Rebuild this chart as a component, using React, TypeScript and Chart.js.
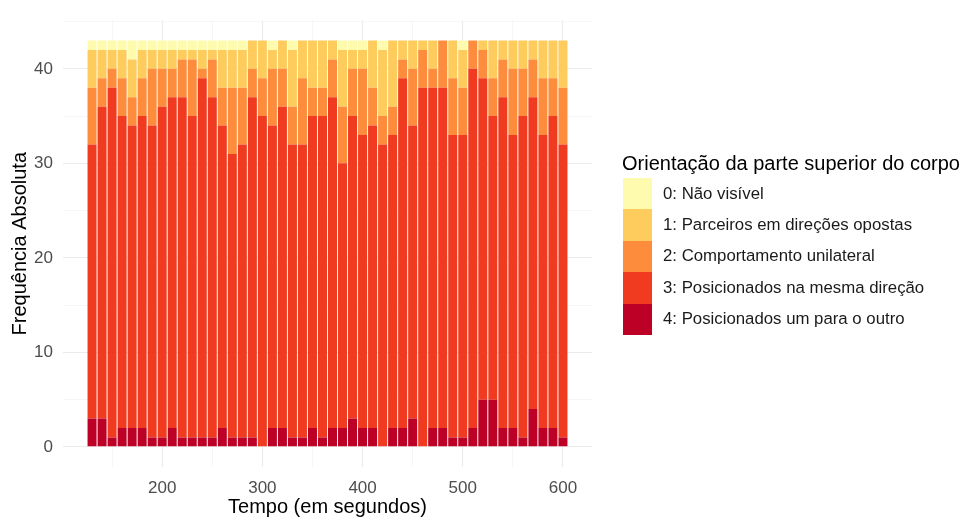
import React, { useEffect, useRef } from "react";
import { Chart, registerables } from "chart.js";

Chart.register(...registerables);

const times = [130, 140, 150, 160, 170, 180, 190, 200, 210, 220, 230, 240, 250, 260, 270, 280, 290, 300, 310, 320, 330, 340, 350, 360, 370, 380, 390, 400, 410, 420, 430, 440, 450, 460, 470, 480, 490, 500, 510, 520, 530, 540, 550, 560, 570, 580, 590, 600];

const cat4 = [3, 3, 1, 2, 2, 2, 1, 1, 2, 1, 1, 1, 1, 2, 1, 1, 1, 0, 2, 2, 1, 1, 2, 1, 2, 2, 3, 2, 2, 0, 2, 2, 3, 0, 2, 2, 1, 1, 2, 5, 5, 2, 2, 1, 4, 2, 2, 1];
const cat3 = [29, 33, 37, 33, 32, 33, 33, 35, 35, 36, 34, 38, 36, 32, 30, 31, 36, 35, 32, 34, 31, 31, 33, 34, 35, 28, 32, 31, 32, 32, 31, 37, 31, 38, 36, 36, 32, 32, 38, 34, 30, 35, 31, 34, 33, 31, 33, 31];
const cat2 = [6, 3, 2, 4, 3, 4, 6, 4, 3, 4, 6, 1, 4, 4, 7, 6, 3, 4, 6, 4, 4, 7, 3, 3, 4, 6, 5, 7, 4, 3, 3, 2, 6, 4, 2, 5, 6, 5, 3, 3, 4, 4, 7, 5, 4, 6, 4, 6];
const cat1 = [4, 3, 2, 3, 4, 3, 2, 2, 2, 1, 1, 2, 1, 4, 4, 4, 3, 4, 2, 3, 6, 4, 5, 5, 2, 6, 2, 2, 5, 7, 7, 2, 3, 1, 3, 0, 4, 4, 0, 1, 4, 2, 3, 3, 2, 4, 4, 5];
const cat0 = [1, 1, 1, 1, 2, 1, 1, 1, 1, 1, 1, 1, 1, 1, 1, 1, 0, 0, 1, 0, 1, 0, 0, 0, 0, 1, 1, 1, 0, 1, 0, 0, 0, 0, 0, 0, 0, 1, 0, 0, 0, 0, 0, 0, 0, 0, 0, 0];

const seriesLabels = [
  "0: Não visível",
  "1: Parceiros em direções opostas",
  "2: Comportamento unilateral",
  "3: Posicionados na mesma direção",
  "4: Posicionados um para o outro",
];
const seriesColors = ["#FFFBAE", "#FECC5C", "#FD8D3C", "#F03B20", "#BD0026"];
const seriesValues = [cat0, cat1, cat2, cat3, cat4];

const xTicks = [150, 200, 250, 300, 350, 400, 450, 500, 550, 600];
const yTicks = [0, 5, 10, 15, 20, 25, 30, 35, 40, 45];

const legendTitle = "Orientação da parte superior do corpo";
const xTitle = "Tempo (em segundos)";
const yTitle = "Frequência Absoluta";

const FONT = "'Liberation Sans', Arial, sans-serif";

export default function App() {
  const canvasRef = useRef<HTMLCanvasElement | null>(null);

  useEffect(() => {
    if (!canvasRef.current) return;
    // stack order: category 4 at the bottom
    const order = [4, 3, 2, 1, 0];
    const datasets = order.map((k) => ({
      label: seriesLabels[k],
      data: times.map((t, i) => ({ x: t, y: seriesValues[k][i] })),
      backgroundColor: seriesColors[k],
      borderWidth: 0,
      barPercentage: 0.9,
      categoryPercentage: 1,
    }));
    const chart = new Chart(canvasRef.current, {
      type: "bar",
      data: { datasets },
      options: {
        animation: false,
        responsive: false,
        maintainAspectRatio: false,
        layout: { padding: { left: 0, top: 15.5, right: 371, bottom: 0 } },
        plugins: { legend: { display: false }, tooltip: { enabled: false } },
        scales: {
          x: {
            type: "linear",
            stacked: true,
            offset: false,
            min: 101,
            max: 629,
            afterBuildTicks: (s: any) => {
              s.ticks = xTicks.map((v) => ({ value: v }));
            },
            afterFit: (s: any) => {
              s.height = 52.8;
            },
            grid: {
              offset: false,
              drawTicks: false,
              color: (c: any) => (c.tick && c.tick.value % 100 === 0 ? "#EBEBEB" : "#F4F4F4"),
              lineWidth: (c: any) => (c.tick && c.tick.value % 100 === 0 ? 1.1 : 0.8),
            },
            border: { display: false },
            ticks: {
              padding: 11,
              color: "#4D4D4D",
              font: { family: FONT, size: 17 },
              maxRotation: 0,
              autoSkip: false,
              callback: (v: any) => (Number(v) % 100 === 0 ? String(v) : ""),
            },
            title: {
              display: true,
              text: xTitle,
              color: "#000000",
              font: { family: FONT, size: 20 },
              padding: { top: 0, bottom: 1 },
            },
          },
          y: {
            type: "linear",
            stacked: true,
            min: -2.15,
            max: 45.15,
            afterBuildTicks: (s: any) => {
              s.ticks = yTicks.map((v) => ({ value: v }));
            },
            afterFit: (s: any) => {
              s.width = 63;
            },
            grid: {
              drawTicks: false,
              color: (c: any) => (c.tick && c.tick.value % 10 === 0 ? "#EBEBEB" : "#F4F4F4"),
              lineWidth: (c: any) => (c.tick && c.tick.value % 10 === 0 ? 1.1 : 0.8),
            },
            border: { display: false },
            ticks: {
              padding: 10,
              color: "#4D4D4D",
              font: { family: FONT, size: 17 },
              autoSkip: false,
              callback: (v: any) => (Number(v) % 10 === 0 ? String(v) : ""),
            },
            title: {
              display: true,
              text: yTitle,
              color: "#000000",
              font: { family: FONT, size: 20 },
              padding: { top: 8, bottom: 0 },
            },
          },
        },
      },
    });
    return () => chart.destroy();
  }, []);

  return (
    <div style={{ position: "absolute", left: 0, top: 0, width: 963, height: 520, background: "#FFFFFF", overflow: "hidden" }}>
      <canvas ref={canvasRef} width={963} height={520} style={{ position: "absolute", left: 0, top: 0, width: 963, height: 520 }} />
      <div style={{ position: "absolute", left: 622, top: 151, fontFamily: FONT, fontSize: 20, lineHeight: "24px", color: "#000", whiteSpace: "nowrap" }}>
        {legendTitle}
      </div>
      {seriesLabels.map((lab, i) => (
        <div key={lab} style={{ position: "absolute", left: 623, top: 178 + i * 31.4, height: 31.4, display: "flex", alignItems: "center", whiteSpace: "nowrap" }}>
          <div style={{ width: 29, height: 31.4, background: seriesColors[i] }} />
          <span style={{ marginLeft: 11, fontFamily: FONT, fontSize: 16.8, color: "#1A1A1A" }}>{lab}</span>
        </div>
      ))}
    </div>
  );
}
